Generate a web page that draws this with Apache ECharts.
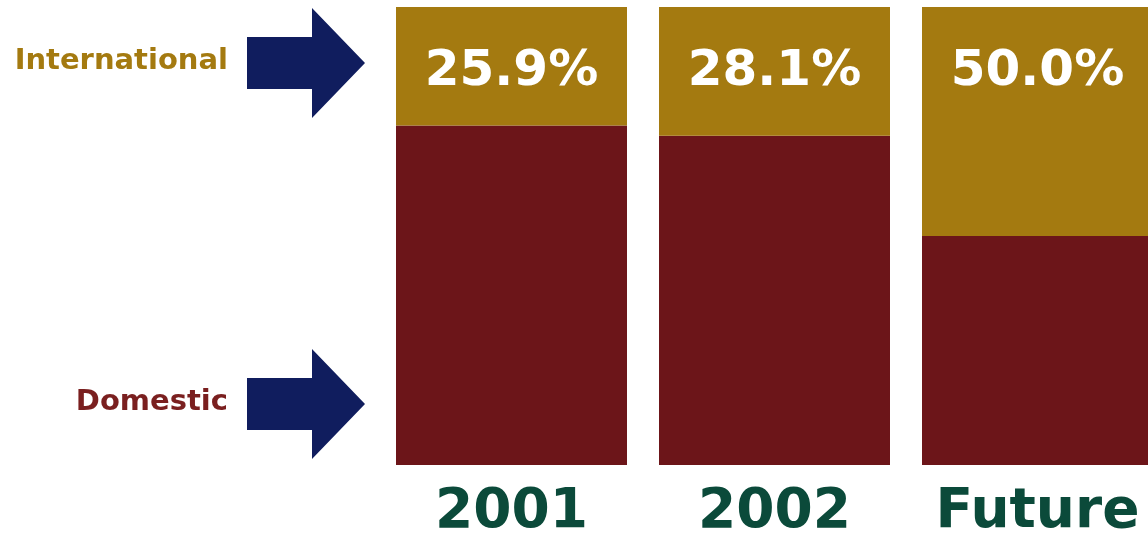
<!DOCTYPE html>
<html>
<head>
<meta charset="utf-8">
<script src="https://cdn.jsdelivr.net/npm/echarts@6/dist/echarts.min.js"></script>
<style>
  html, body { margin: 0; padding: 0; background: #ffffff; }
  #shareChart { width: 1148px; height: 534px; }
</style>
</head>
<body>
<div id="shareChart"></div>
<script>
// share of students, percent
const years = ['2001', '2002', 'Future']
const international = [25.9, 28.1, 50.0]
const domestic = [74.1, 71.9, 50.0]

const gold = '#a47a10'
const maroon = '#6c1519'
const navy = '#101d5e'
const green = '#0b4a3a'

const myChart = echarts.init(document.getElementById('shareChart'))

// big block arrow pointing right, tip at (tx, ty)
function arrow (tx, ty) {
  return {
    type: 'polygon',
    shape: {
      points: [
        [tx - 118, ty - 26], [tx - 53, ty - 26], [tx - 53, ty - 55],
        [tx, ty], [tx - 53, ty + 55], [tx - 53, ty + 26], [tx - 118, ty + 26]
      ]
    },
    style: { fill: navy }
  }
}

const option = {
  backgroundColor: '#ffffff',
  animation: false,
  grid: {
    left: 380,
    top: 7,
    width: 789,
    height: 458,
    containLabel: false,
    outerBoundsMode: 'none'
  },
  xAxis: {
    type: 'category',
    data: years,
    axisLine: { show: false },
    axisTick: { show: false },
    axisLabel: {
      interval: 0,
      hideOverlap: false,
      color: green,
      fontFamily: 'DejaVu Sans',
      fontWeight: 'bold',
      fontSize: 55,
      margin: 20
    }
  },
  yAxis: {
    type: 'value',
    min: 0,
    max: 100,
    show: false
  },
  series: [
    {
      name: 'Domestic',
      type: 'bar',
      stack: 'share',
      barWidth: 231,
      itemStyle: { color: maroon },
      data: domestic
    },
    {
      name: 'International',
      type: 'bar',
      stack: 'share',
      barWidth: 231,
      itemStyle: { color: gold },
      label: {
        show: true,
        position: 'insideTop',
        distance: 40,
        color: '#ffffff',
        fontFamily: 'DejaVu Sans',
        fontWeight: 'bold',
        fontSize: 50,
        formatter: p => p.value.toFixed(1) + '%'
      },
      data: international
    }
  ],
  graphic: [
    {
      type: 'text',
      right: 920,
      top: 47,
      style: {
        text: 'International',
        fill: gold,
        font: 'bold 29px "DejaVu Sans"'
      }
    },
    {
      type: 'text',
      right: 920,
      top: 388,
      style: {
        text: 'Domestic',
        fill: '#7a1f1f',
        font: 'bold 29px "DejaVu Sans"'
      }
    },
    arrow(365, 63),
    arrow(365, 404)
  ]
}

myChart.setOption(option, true)
</script>
</body>
</html>
